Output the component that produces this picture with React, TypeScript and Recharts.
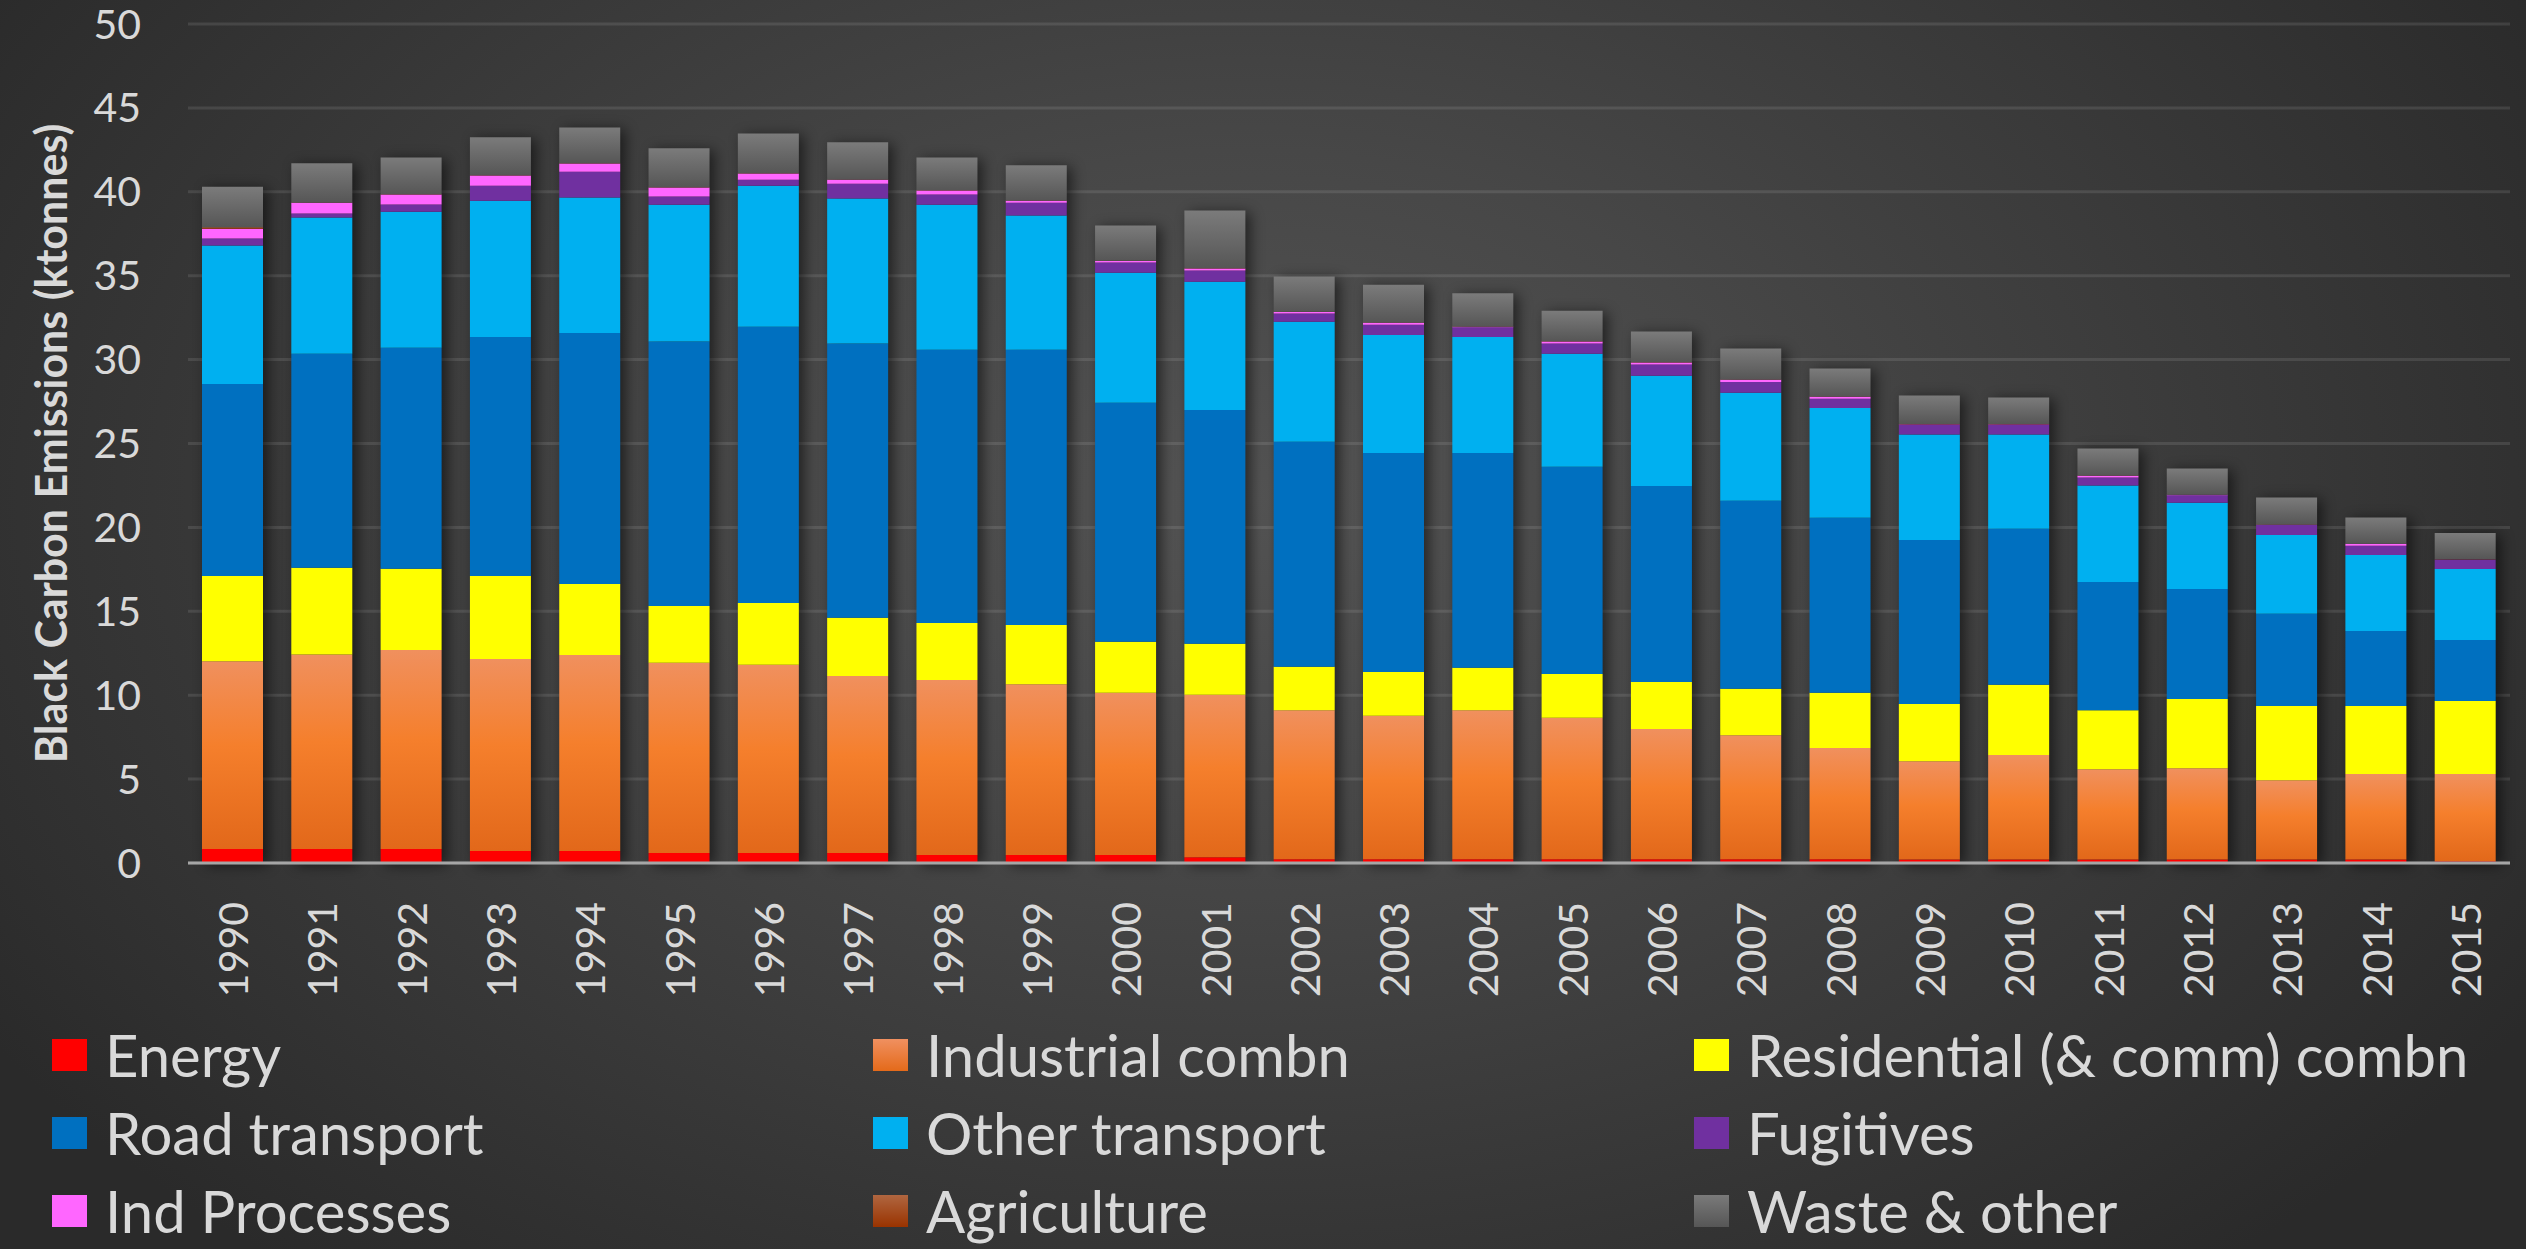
import React from 'react';
import { BarChart, Bar, XAxis, YAxis, CartesianGrid, Legend } from 'recharts';

const YEARS = ['1990','1991','1992','1993','1994','1995','1996','1997','1998','1999','2000','2001','2002','2003','2004','2005','2006','2007','2008','2009','2010','2011','2012','2013','2014','2015'];

const ENERGY = [0.84,0.83,0.83,0.71,0.71,0.59,0.59,0.59,0.47,0.47,0.47,0.35,0.23,0.23,0.23,0.23,0.23,0.23,0.23,0.21,0.21,0.21,0.21,0.21,0.21,0.1];
const INDUSTRIAL = [11.19,11.6,11.87,11.44,11.69,11.35,11.23,10.56,10.44,10.19,9.68,9.67,8.88,8.55,8.88,8.42,7.76,7.39,6.63,5.86,6.23,5.37,5.44,4.72,5.09,5.2];
const RESIDENTIAL = [5.08,5.17,4.84,4.96,4.23,3.38,3.68,3.47,3.4,3.53,3.04,3.05,2.59,2.61,2.53,2.62,2.79,2.77,3.29,3.41,4.18,3.53,4.13,4.43,4.06,4.36];
const ROAD = [11.44,12.75,13.17,14.24,14.95,15.76,16.46,16.34,16.28,16.4,14.24,13.93,13.41,13.05,12.8,12.35,11.69,11.2,10.43,9.77,9.3,7.64,6.55,5.49,4.47,3.63];
const OTHER_TRANSPORT = [8.25,8.12,8.1,8.11,8.08,8.15,8.4,8.64,8.64,8.0,7.75,7.64,7.15,7.03,6.91,6.73,6.57,6.44,6.54,6.28,5.61,5.74,5.14,4.69,4.53,4.23];
const FUGITIVES = [0.42,0.24,0.43,0.9,1.54,0.49,0.36,0.88,0.61,0.76,0.61,0.67,0.49,0.61,0.58,0.61,0.67,0.64,0.55,0.6,0.6,0.49,0.45,0.6,0.54,0.57];
const IND_PROCESSES = [0.58,0.64,0.6,0.61,0.49,0.54,0.37,0.24,0.24,0.12,0.09,0.12,0.09,0.12,0.03,0.12,0.12,0.13,0.12,0.02,0.02,0.1,0.02,0.02,0.12,0.0];
const AGRICULTURE = [0.09,0.01,0.01,0.01,0.01,0.01,0.01,0.01,0.01,0.01,0.01,0.01,0.01,0.01,0.01,0.01,0.01,0.01,0.01,0.01,0.01,0.01,0.01,0.01,0.01,0.01];
const WASTE = [2.41,2.34,2.19,2.27,2.13,2.32,2.37,2.22,1.95,2.1,2.1,3.44,2.1,2.25,1.98,1.82,1.83,1.85,1.67,1.7,1.58,1.61,1.56,1.61,1.56,1.56];

const Y_TICKS = [0, 5, 10, 15, 20, 25, 30, 35, 40, 45, 50];

const SERIES = [
  { key: 'energy', name: 'Energy', values: ENERGY, fill: '#ff0000', swatch: '#ff0000' },
  { key: 'industrial', name: 'Industrial combn', values: INDUSTRIAL, fill: 'url(#gradIndustrial)', swatch: 'linear-gradient(#f09060, #e46a1a)' },
  { key: 'residential', name: 'Residential (& comm) combn', values: RESIDENTIAL, fill: '#ffff00', swatch: '#ffff00' },
  { key: 'road', name: 'Road transport', values: ROAD, fill: '#0070c0', swatch: '#0070c0' },
  { key: 'other', name: 'Other transport', values: OTHER_TRANSPORT, fill: '#00b0f0', swatch: '#00b0f0' },
  { key: 'fugitives', name: 'Fugitives', values: FUGITIVES, fill: '#7030a0', swatch: '#7030a0' },
  { key: 'indproc', name: 'Ind Processes', values: IND_PROCESSES, fill: '#ff66ff', swatch: '#ff66ff' },
  { key: 'agri', name: 'Agriculture', values: AGRICULTURE, fill: 'url(#gradAgri)', swatch: 'linear-gradient(#b06640, #993300)' },
  { key: 'waste', name: 'Waste & other', values: WASTE, fill: 'url(#gradWaste)', swatch: 'linear-gradient(#7a7a7a, #565656)' },
];

const data = YEARS.map((year, i) => {
  const row: Record<string, number | string> = { year };
  let total = 0;
  SERIES.forEach((s) => {
    row[s.key] = s.values[i];
    total += s.values[i];
  });
  row.total = total;
  return row;
});

const FONT = 'Lato, "Open Sans", sans-serif';
const TEXT = '#d9d9d9';

const YearTick = (props: any) => {
  const { x, y, payload } = props;
  const ty = y + 37;
  return (
    <text
      x={x}
      y={ty}
      transform={`rotate(-90, ${x}, ${ty})`}
      textAnchor="end"
      dominantBaseline="central"
      fill={TEXT}
      fontSize={41}
      fontFamily={FONT}
    >
      {payload.value}
    </text>
  );
};

const YTitle = (props: any) => {
  const vb = props.viewBox || { x: 0, y: 24, width: 188, height: 839 };
  const cx = vb.x + 50;
  const cy = vb.y + vb.height / 2;
  return (
    <text
      x={cx}
      y={cy}
      transform={`rotate(-90, ${cx}, ${cy})`}
      textAnchor="middle"
      dominantBaseline="central"
      fill={TEXT}
      fontSize={43}
      fontWeight={700}
      fontFamily={FONT}
    >
      Black Carbon Emissions (ktonnes)
    </text>
  );
};

const LegendContent = () => (
  <div
    style={{
      display: 'grid',
      gridTemplateColumns: 'repeat(3, 821px)',
      gridAutoRows: '78px',
      paddingLeft: 52,
    }}
  >
    {SERIES.map((s) => (
      <div key={s.key} style={{ display: 'flex', alignItems: 'center' }}>
        <span style={{ display: 'inline-block', width: 35, height: 32, background: s.swatch, marginRight: 18, flex: 'none' }} />
        <span style={{ color: TEXT, fontSize: 58, fontFamily: FONT, lineHeight: 1, whiteSpace: 'nowrap' }}>{s.name}</span>
      </div>
    ))}
  </div>
);

const ShadowShape = (props: any) => {
  const { x, y, width, height } = props;
  if (!height || height <= 0) return null;
  return <rect x={x} y={y} width={width} height={height} fill="#000" opacity={0.55} filter="url(#barShadow)" />;
};

export default function App() {
  return (
    <div
      style={{
        position: 'absolute',
        left: 0,
        top: 0,
        width: 2526,
        height: 1249,
        overflow: 'hidden',
        background:
          'radial-gradient(ellipse 1500px 1000px at 1250px 500px, #545454 0%, #474747 35%, #2a2a2a 100%)',
      }}
    >
      <BarChart
        width={2526}
        height={1249}
        data={data}
        margin={{ top: 24, right: 16, left: 0, bottom: 236 }}
        barSize={61}
      >
        <defs>
          <linearGradient id="gradIndustrial" x1="0" y1="0" x2="0" y2="1">
            <stop offset="0%" stopColor="#f0905e" />
            <stop offset="45%" stopColor="#f57f2c" />
            <stop offset="100%" stopColor="#e2681a" />
          </linearGradient>
          <linearGradient id="gradWaste" x1="0" y1="0" x2="0" y2="1">
            <stop offset="0%" stopColor="#7b7b7b" />
            <stop offset="100%" stopColor="#565656" />
          </linearGradient>
          <linearGradient id="gradAgri" x1="0" y1="0" x2="0" y2="1">
            <stop offset="0%" stopColor="#b06640" />
            <stop offset="100%" stopColor="#993300" />
          </linearGradient>
          <filter id="barShadow" x="-50%" y="-10%" width="200%" height="120%">
            <feGaussianBlur stdDeviation="7" />
            <feOffset dx="5" dy="2" />
          </filter>
        </defs>
        <CartesianGrid vertical={false} stroke="rgba(255,255,255,0.1)" strokeWidth={3} />
        <XAxis xAxisId="shadow" dataKey="year" hide />
        <XAxis
          dataKey="year"
          height={150}
          interval={0}
          tickSize={0}
          tickLine={false}
          tick={<YearTick />}
          axisLine={{ stroke: '#a6a6a6', strokeWidth: 3 }}
        />
        <YAxis
          width={188}
          domain={[0, 50]}
          ticks={Y_TICKS}
          interval={0}
          tickSize={0}
          tickMargin={47}
          tickLine={false}
          axisLine={false}
          tick={{ fill: TEXT, fontSize: 41, fontFamily: FONT }}
          label={{ content: (p: any) => <YTitle {...p} /> }}
        />
        <Bar
          xAxisId="shadow"
          dataKey="total"
          legendType="none"
          shape={<ShadowShape />}
          isAnimationActive={false}
        />
        {SERIES.map((s) => (
          <Bar
            key={s.key}
            dataKey={s.key}
            name={s.name}
            stackId="a"
            fill={s.fill}
            isAnimationActive={false}
          />
        ))}
        <Legend
          layout="horizontal"
          verticalAlign="middle"
          align="center"
          wrapperStyle={{ left: 0, top: 1016, width: 2526 }}
          content={<LegendContent />}
        />
      </BarChart>
    </div>
  );
}
